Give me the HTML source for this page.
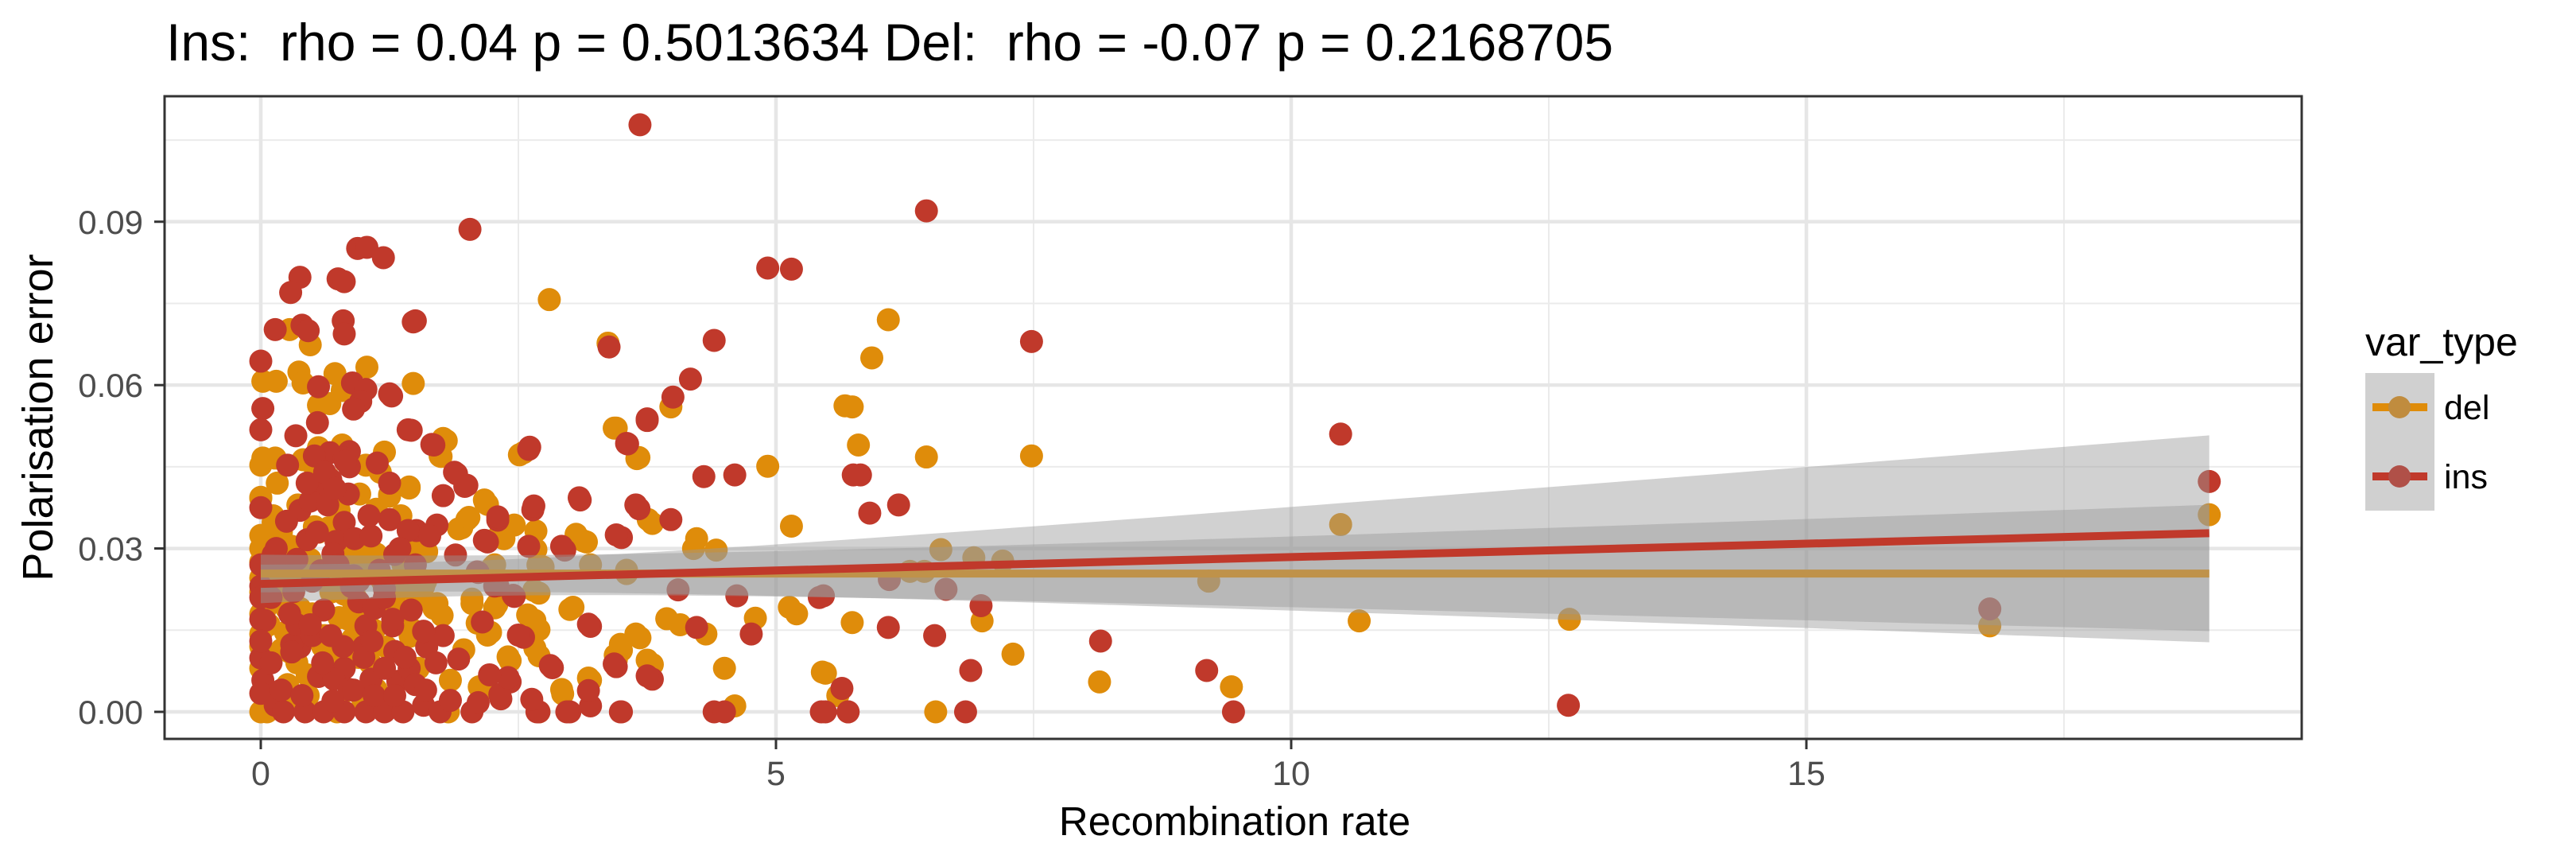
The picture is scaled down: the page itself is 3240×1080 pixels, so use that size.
<!DOCTYPE html>
<html><head><meta charset="utf-8"><style>
html,body{margin:0;padding:0;background:#fff;}
svg{display:block;font-family:"Liberation Sans",Arial,sans-serif;}
</style></head><body>
<svg id="chart" width="3240" height="1080" viewBox="0 0 3240 1080">
<text x="209" y="76" font-size="66" fill="#000" xml:space="preserve">Ins:  rho = 0.04 p = 0.5013634 Del:  rho = -0.07 p = 0.2168705</text>
<g id="grid"></g>
<g id="pts"></g>
<g id="fits"></g>
<rect x="207" y="121" width="2688" height="808" fill="none" stroke="#333" stroke-width="3"/>
<g id="axes"></g>
<text x="1553" y="1050" font-size="51" text-anchor="middle" fill="#000">Recombination rate</text>
<text transform="translate(66,525) rotate(-90)" font-size="54" text-anchor="middle" fill="#000">Polarisation error</text>
<g>
<text x="2975" y="447" font-size="50" fill="#000">var_type</text>
<rect x="2975" y="469" width="87" height="173" fill="#d0d0d0"/>
<g>
<line x1="2984" y1="512" x2="3053" y2="512" stroke="#df8c0a" stroke-width="10"/>
<circle cx="3018" cy="512" r="14" fill="#c08c3e"/>
<text x="3074" y="527" font-size="43" fill="#000">del</text></g>
<g>
<line x1="2984" y1="599" x2="3053" y2="599" stroke="#c0392b" stroke-width="10"/>
<circle cx="3018" cy="599" r="14" fill="#b05048"/>
<text x="3074" y="614" font-size="43" fill="#000">ins</text></g>
</g>
</svg>
<script>
const xTicks=[0,5,10,15];
const xMinor=[2.5,7.5,12.5,17.5];
const yTicks=[0,0.03,0.06,0.09];
const yTickLabels=["0.00","0.03","0.06","0.09"];
const yMinor=[0.015,0.045,0.075,0.105];
const delX=[0.02,0.15,0.37,0.41,0.72,1.03,1.48,0.28,0.48,2.8,3.37,0.56,0.67,0.79,1.2,1.77,1.74,2.51,3.43,3.65,0,0.02,0.14,0.41,0.56,0.79,1.02,1.44,1.25,0.55,2.17,0,0.53,0.66,
0,0,0.12,0,0.15,0.04,0,0.24,0.4,0.45,0.61,0,0.32,0.74,0.99,1.12,1.53,1.82,1.84,2.12,2.4,2.66,2.92,3.18,3.49,3.44,3.64,3.75,3.03,2.66,2.59,2.23,2.05,2.29,1.71,1.76,2.1,1.97,1.31,0.81,1.07,0.76,0.89,1.22,1.45,0.61,0.2,1.46,1.61,1.44,1.25,1.12,1.02,0.94,0.66,0.3,0.17,2.0,1.92,2.18,2.32,2.46,2.62,2.69,3.06,3.13,3.2,3.55,3.76,2.27,2.65,0,1.22,0.5,0.7,
3.98,3.45,3.67,2.55,4.92,5.15,3.8,4.23,4.2,4.42,3.16,3.07,2.67,2.67,2.74,2.2,2.36,3.55,2.7,3.0,3.94,4.07,4.32,3.68,4.8,5.13,5.2,5.74,3.5,3.45,3.8,4.5,5.48,3.2,2.93,2.7,2.7,2.42,2.15,4.6,2.7,2.2,2.05,2.27,2.25,1.95,2.02,1.8,1.75,
6.09,5.93,5.67,5.74,5.8,6.46,7.48,6.6,6.92,7.2,6.3,6.44,7.0,7.3,8.14,9.42,9.2,10.48,10.66,12.7,16.78,18.91,6.55,5.6,5.45,
0.1,0.3,0.5,0.7,0.9,1.1,1.3,0.2,0.6,1.0,1.4,0.35,0.85,1.15,0.05,0.45,0.95,1.35,0.25,0.75,1.05,1.6,
0.0,0.0,0.0,0.0,0.0,0.08,0.18,0.28,0.38,0.48,0.58,0.68,0.78,0.88,0.98,1.08,1.18,1.28,1.38,1.48,1.58,1.68,0.12,0.22,0.32,0.42,0.52,0.62,0.72,0.82,0.92,1.02,1.12,1.32,1.52,0.06,0.26,0.46,0.66,0.86,1.06,1.26,1.46,0.16,0.36,0.56,0.76,0.96,1.16,1.36];
const delY=[0.0607,0.0607,0.0624,0.0604,0.0621,0.0633,0.0603,0.0702,0.0674,0.0757,0.0677,0.0563,0.0566,0.059,0.0477,0.0502,0.047,0.0472,0.0521,0.0465,0.0453,0.0466,0.0466,0.0463,0.0485,0.049,0.0453,0.0413,0.0399,0.0394,0.0389,0.0394,0.0438,0.043,
0.0392,0.0324,0.0348,0.0275,0.0216,0.0187,0.0143,0.0146,0.0129,0.0068,0.0092,0,0.0017,0,0.0022,0.0041,0.008,0,0.0058,0.0046,0.0101,0.0117,0.0041,0.0062,0.0124,0.0104,0.0143,0.0095,0.0192,0.0168,0.0178,0.0146,0.0207,0.0197,0.0199,0.0177,0.0163,0.0114,0.0187,0.0216,0.0255,0.0173,0.0134,0.0119,0.0139,0.0134,0.0114,0.0299,0.0294,0.0411,0.0396,0.0372,0.0309,0.0284,0.0338,0.0304,0.0338,0.0353,0.0336,0.0384,0.0326,0.0343,0.0304,0.027,0.0326,0.0314,0.027,0.026,0.0353,0.027,0.0223,0.0246,0.0216,0.0178,0.0275,
0.056,0.0521,0.0467,0.0476,0.0451,0.0341,0.0346,0.0318,0.03,0.0297,0.0312,0.032,0.0332,0.0298,0.0266,0.0381,0.0318,0.0254,0.0218,0.0188,0.0171,0.016,0.0143,0.0136,0.0172,0.0192,0.018,0.0164,0.0113,0.0095,0.0087,0.008,0.0071,0.0058,0.0033,0.0103,0.0151,0.0094,0.004,0.0011,0,0.0141,0.0199,0.0191,0.0266,0.0338,0.0357,0.0498,0.0469,
0.072,0.065,0.0562,0.056,0.049,0.0468,0.047,0.0298,0.0283,0.0277,0.0258,0.0258,0.0167,0.0106,0.0055,0.0046,0.024,0.0344,0.0167,0.017,0.0158,0.0362,0,0.003,0.0073,
0.028,0.022,0.018,0.024,0.02,0.015,0.021,0.033,0.012,0.026,0.023,0.009,0.017,0.028,0.029,0.025,0.01,0.018,0.019,0.028,0.013,0.024,
0.012,0.018,0.022,0.008,0.03,0.016,0.025,0.011,0.019,0.028,0.014,0.022,0.009,0.026,0.017,0.012,0.024,0.02,0.027,0.015,0.023,0.019,0.036,0.031,0.024,0.018,0.034,0.014,0.026,0.03,0.021,0.017,0.029,0.024,0.021,0.0,0.005,0.003,0.011,0.004,0.009,0.001,0.006,0.042,0.038,0.033,0.037,0.04,0.044,0.036];
const insX=[3.68,2.03,4.92,5.15,3.38,4.4,4.17,4.0,3.75,3.55,2.6,2.64,3.1,3.67,3.98,3.5,2.95,4.3,4.6,4.05,4.62,5.42,4.76,4.23,3.2,2.55,2.83,3.45,3.8,5.64,3.5,4.4,4.5,3.0,5.48,5.7,2.7,3.2,2.33,2.42,2.46,2.3,2.1,2.2,2.3,2.15,2.0,1.9,1.68,1.46,1.5,1.27,
0.38,0.29,0.94,1.03,1.19,0.75,0.81,0.14,0.4,0.46,0.8,0.81,1.48,0,0.56,0.89,1.02,0.97,0.9,1.25,0.02,0,0.34,0.55,1.43,1.66,2.61,3.56,3.75,0.26,0.67,0.86,0.81,1.13,1.88,1.98,1.77,2.65,3.09,3.64,
3.45,2.92,2.6,2.17,2.3,1.89,1.71,1.51,1.25,0.81,0.38,0,0.12,0.45,0.95,2.11,2.27,2.45,3.18,2.5,2.81,3.43,3.75,3.18,2.97,3.49,2.68,2.63,2.32,2.4,2.22,2.05,2.11,0.04,0,0.38,0,0.02,0,0.14,0.22,0.43,0.61,0.81,1.02,1.2,1.38,1.58,1.74,1.84,0.81,1.07,1.33,1.44,1.3,1.61,1.77,1.92,1.58,1.28,1.46,1.02,0.61,0.3,0.56,0.71,0.86,1.2,0.32,0.58,0.73,0.91,1.07,1.3,1.43,1.64,0.68,0.86,0.55,0.48,
6.46,7.48,5.91,6.19,5.75,5.82,6.1,6.09,6.54,6.65,6.99,6.89,6.84,8.15,9.18,9.44,10.48,12.69,16.78,18.91,5.46,5.7,5.44,
0.2,0.5,0.9,1.1,1.5,0.1,0.7,1.2,0.35,1.0,
0.0,0.0,0.0,0.0,0.1,0.2,0.3,0.4,0.5,0.6,0.7,0.8,0.9,1.0,1.1,1.2,1.3,1.4,1.5,1.6,1.7,0.15,0.25,0.35,0.45,0.55,0.65,0.75,0.85,0.95,1.05,1.15,1.25,1.35,0.28,0.48,0.68,0.88,1.08,1.28,0.52,0.62,0.72,0.82];
const insY=[0.1078,0.0886,0.0815,0.0813,0.067,0.0682,0.0611,0.0578,0.0538,0.0493,0.0482,0.0371,0.0389,0.0373,0.0353,0.032,0.0297,0.0432,0.0435,0.0224,0.0213,0.021,0.0143,0.0155,0.0157,0.0137,0.0081,0.0083,0.006,0.0043,0,0,0,0,0,0,0,0.0011,0.0024,0.0055,0.0212,0.0232,0.0257,0.0312,0.0352,0.0165,0.0416,0.0437,0.049,0.0517,0.0718,0.058,
0.0798,0.077,0.0851,0.0853,0.0834,0.0795,0.079,0.0702,0.071,0.07,0.0718,0.0694,0.0716,0.0644,0.0597,0.0604,0.0592,0.057,0.0556,0.0584,0.0557,0.0518,0.0507,0.0531,0.0518,0.0491,0.0486,0.0492,0.0535,0.0453,0.0476,0.0478,0.0466,0.0457,0.044,0.0414,0.0397,0.0378,0.0393,0.038,
0.0325,0.0304,0.0304,0.0315,0.0358,0.0288,0.0343,0.0333,0.0353,0.0348,0.037,0.0375,0.0289,0.0316,0.0202,0.0256,0.0231,0.0214,0.0161,0.0141,0.0085,0.0088,0.0066,0.0039,0,0,0,0.0023,0.0032,0.0063,0.0068,0,0.0017,0.0168,0.0231,0.0119,0.0099,0.0058,0.0034,0.0012,0,0,0,0,0,0,0,0.0012,0,0.0021,0.008,0.006,0.0056,0.008,0.0111,0.0119,0.014,0.0097,0.0148,0.0158,0.0187,0.0158,0.0187,0.0124,0.0065,0.006,0.0041,0.0226,0.0221,0.0259,0.0313,0.0318,0.0323,0.0289,0.0333,0.0323,0.0426,0.045,0.0406,0.0387,
0.092,0.068,0.0365,0.038,0.0435,0.0435,0.0243,0.0155,0.014,0.0225,0.0195,0.0076,0,0.013,0.0076,0,0.051,0.0012,0.0189,0.0423,0.0213,0,0,
0.027,0.024,0.025,0.019,0.027,0.021,0.029,0.021,0.016,0.012,
0.027,0.017,0.013,0.021,0.009,0.004,0.011,0.003,0.014,0.009,0.002,0.012,0.004,0.01,0.003,0.008,0.003,0.01,0.005,0.004,0.009,0.03,0.035,0.028,0.042,0.033,0.038,0.027,0.04,0.024,0.036,0.026,0.042,0.03,0.018,0.016,0.014,0.023,0.013,0.017,0.047,0.044,0.041,0.046];
// fitted smooth parameters: [intercept, slope, halfwidthAtMean, growth, meanX]
const delFit=[0.0254,0.0,0.0033,0.0007,1.5];
const insFit=[0.0235,0.000492,0.0032,0.001015,1.5];
const fitRange=[0,18.91];

const NS="http://www.w3.org/2000/svg";
const X0=207,X1=2895,Y0=121,Y1=929;
const sx=v=>328+v*129.6;
const sy=v=>895-v*6847;
function mk(tag,attrs,parent){const e=document.createElementNS(NS,tag);for(const k in attrs)e.setAttribute(k,attrs[k]);parent.appendChild(e);return e;}
const grid=document.getElementById('grid');
mk('rect',{x:X0,y:Y0,width:X1-X0,height:Y1-Y0,fill:'#fff'},grid);
xMinor.forEach(v=>{const l=mk('line',{x1:sx(v),x2:sx(v),y1:Y0,y2:Y1,stroke:'#ebebeb','stroke-width':2},grid);

});
yMinor.forEach(v=>{const l=mk('line',{x1:X0,x2:X1,y1:sy(v),y2:sy(v),stroke:'#ebebeb','stroke-width':2},grid);

});
xTicks.forEach(v=>{const l=mk('line',{x1:sx(v),x2:sx(v),y1:Y0,y2:Y1,stroke:'#e6e6e6','stroke-width':4.5},grid);

});
yTicks.forEach(v=>{const l=mk('line',{x1:X0,x2:X1,y1:sy(v),y2:sy(v),stroke:'#e6e6e6','stroke-width':4.5},grid);

});
const pts=document.getElementById('pts');
delX.forEach((x,i)=>{const c=mk('circle',{cx:sx(x),cy:sy(delY[i]),r:14.5,fill:'#df8c0a'},pts);

});
insX.forEach((x,i)=>{const c=mk('circle',{cx:sx(x),cy:sy(insY[i]),r:14.5,fill:'#c0392b'},pts);

});
const fits=document.getElementById('fits');
function drawFit(f,col,name){
  const n=60,up=[],lo=[];
  for(let i=0;i<=n;i++){const x=fitRange[0]+(fitRange[1]-fitRange[0])*i/n;
    const m=f[0]+f[1]*x;const hw=Math.sqrt(f[2]*f[2]+f[3]*f[3]*(x-f[4])*(x-f[4]));
    up.push(sx(x)+','+sy(m+hw));lo.unshift(sx(x)+','+sy(m-hw));}
  const r=mk('polygon',{points:up.concat(lo).join(' '),fill:'#999999','fill-opacity':0.45},fits);
  
  
  const l=mk('line',{x1:sx(fitRange[0]),y1:sy(f[0]+f[1]*fitRange[0]),x2:sx(fitRange[1]),y2:sy(f[0]+f[1]*fitRange[1]),stroke:col,'stroke-width':10},fits);
  
  
}
drawFit(delFit,'#df8c0a','del');
drawFit(insFit,'#c0392b','ins');
const axes=document.getElementById('axes');
xTicks.forEach(v=>{const t=mk('line',{x1:sx(v),x2:sx(v),y1:Y1,y2:Y1+13,stroke:'#333','stroke-width':3},axes);


const tx=mk('text',{x:sx(v),y:987,'font-size':43,'text-anchor':'middle',fill:'#4d4d4d'},axes);tx.textContent=String(v);

});
yTicks.forEach((v,i)=>{const t=mk('line',{x1:X0-13,x2:X0,y1:sy(v),y2:sy(v),stroke:'#333','stroke-width':3},axes);


const tx=mk('text',{x:180,y:sy(v)+15,'font-size':42,'text-anchor':'end',fill:'#4d4d4d'},axes);tx.textContent=yTickLabels[i];

});
</script>
</body></html>
